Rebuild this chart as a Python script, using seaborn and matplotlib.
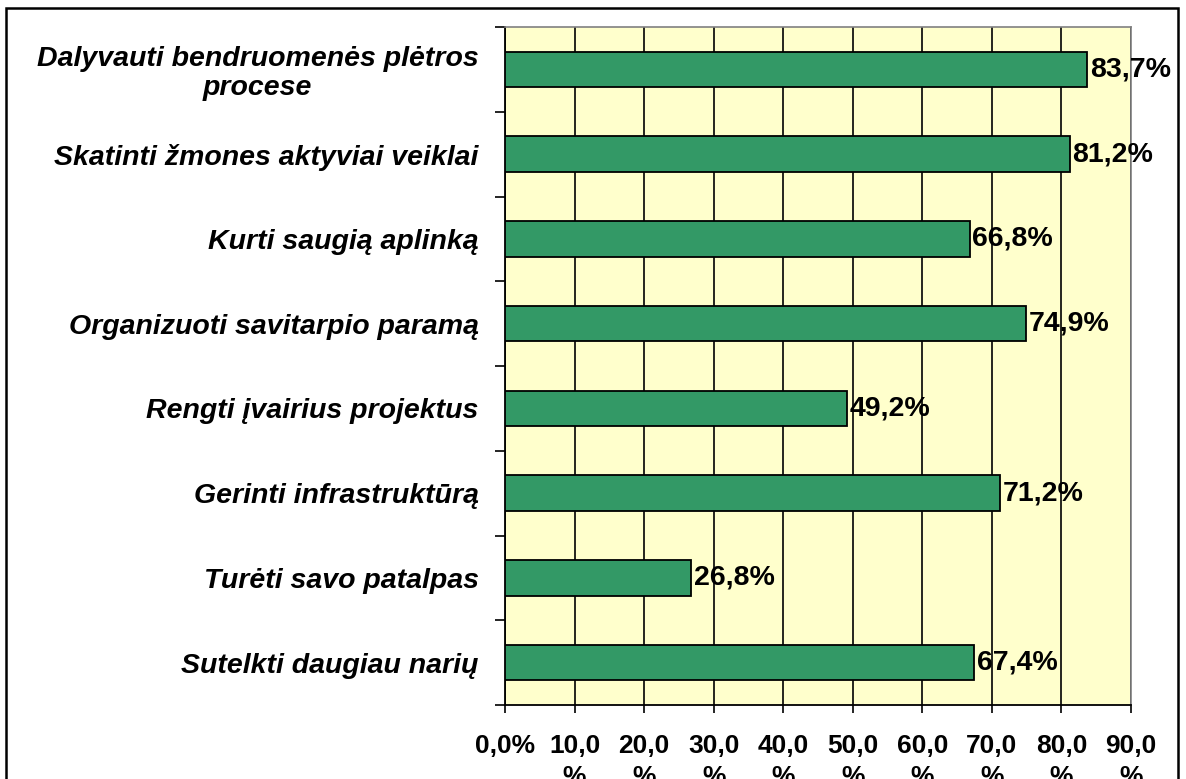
import numpy as np
import pandas as pd
import seaborn as sns
import matplotlib.pyplot as plt
from matplotlib.patches import Rectangle
from matplotlib.ticker import FixedLocator

categories = [
    "Dalyvauti bendruomenės plėtros\nprocese",
    "Skatinti žmones aktyviai veiklai",
    "Kurti saugią aplinką",
    "Organizuoti savitarpio paramą",
    "Rengti įvairius projektus",
    "Gerinti infrastruktūrą",
    "Turėti savo patalpas",
    "Sutelkti daugiau narių",
]
values = [83.7, 81.2, 66.8, 74.9, 49.2, 71.2, 26.8, 67.4]
x_ticks = [0, 10, 20, 30, 40, 50, 60, 70, 80, 90]
x_tick_labels = ["0,0%"] + [f"{t},0\n%" for t in x_ticks[1:]]

df = pd.DataFrame({"category": categories, "value": values})

sns.set_style("white")
plt.rcParams["font.family"] = ["Liberation Sans", "DejaVu Sans"]
plt.rcParams["text.color"] = "black"
plt.rcParams["xtick.color"] = "black"
plt.rcParams["ytick.color"] = "black"

fig = plt.figure(figsize=(11.86, 7.79), dpi=100)
ax = fig.add_axes([505 / 1186, 1 - 705 / 779, 626 / 1186, 678 / 779])
ax.set_facecolor("#FFFFCC")

sns.barplot(data=df, y="category", x="value", orient="h", color="#339966",
            saturation=1, edgecolor="black", linewidth=1.3, width=0.42, ax=ax, zorder=3)

ax.set_xlim(0, 90)
ax.set_ylim(len(categories) - 0.5, -0.5)
ax.set_xticks(x_ticks)
ax.set_xticklabels(x_tick_labels, fontsize=19, fontweight="bold", linespacing=1.35)
ax.xaxis.grid(True, color="black", linewidth=1.2, zorder=1)
ax.set_axisbelow(True)
ax.tick_params(axis="x", direction="out", length=6, width=1.2, color="black", pad=15,
               bottom=True, labelcolor="black")

ax.set_yticks(range(len(categories)))
ax.set_yticklabels(categories, fontsize=20.5, fontweight="bold", fontstyle="italic",
                   multialignment="center", linespacing=1.15)
ax.tick_params(axis="y", which="major", length=0, pad=19, labelcolor="black")
ax.yaxis.set_minor_locator(FixedLocator(np.arange(-0.5, len(categories), 1.0)))
ax.tick_params(axis="y", which="minor", direction="out", length=7, width=1.2, color="black", left=True)

ax.set_xlabel("")
ax.set_ylabel("")

for side in ["left", "bottom"]:
    ax.spines[side].set_color("black")
    ax.spines[side].set_linewidth(1.3)
for side in ["top", "right"]:
    ax.spines[side].set_color("#808080")
    ax.spines[side].set_linewidth(1.2)

labels = [f"{v:.1f}%".replace(".", ",") for v in values]
ax.bar_label(ax.containers[0], labels=labels, padding=2, fontsize=20.5, fontweight="bold",
             color="black", zorder=4)

fig.patches.append(Rectangle((6 / 1186, -0.1), 1172 / 1186, 1.1 - 8 / 779,
                             transform=fig.transFigure, fill=False,
                             edgecolor="black", linewidth=1.8))

fig.savefig("out.png", dpi=100)
